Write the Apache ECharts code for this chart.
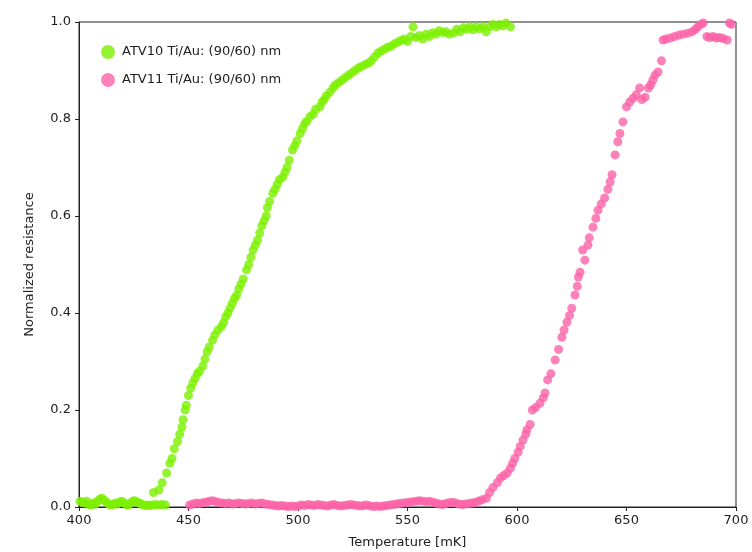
<!DOCTYPE html>
<html>
<head>
<meta charset="utf-8">
<script src="https://cdn.jsdelivr.net/npm/echarts@6/dist/echarts.min.js"></script>
<style>html,body{margin:0;padding:0;background:#fff;}#c{width:752px;height:552px;}</style>
</head>
<body>
<div id="c"></div>
<script>
const seriesNames = ["ATV10 Ti/Au: (90/60) nm", "ATV11 Ti/Au: (90/60) nm"];
const xTicks = [400, 450, 500, 550, 600, 650, 700];
const yTicks = [0.0, 0.2, 0.4, 0.6, 0.8, 1.0];
// ATV10: [temperature mK, normalized resistance]
const atv10 = [
[400.5,0.012],[401.5,0.01],[402.5,0.008],[403.5,0.012],[404.5,0.005],[405.5,0.004],[406.5,0.008],[407.5,0.006],[408.5,0.012],[409.5,0.016],[410.5,0.018],[411.5,0.014],[412.5,0.01],[413.5,0.006],[414.5,0.004],[415.5,0.005],[416.5,0.008],[417.5,0.006],[418.5,0.01],[419.5,0.012],[420.5,0.009],[421.5,0.005],[422.5,0.004],[423.5,0.008],[424.5,0.012],[425.5,0.013],[426.5,0.01],[427.5,0.008],[428.5,0.006],[429.5,0.004],[430.5,0.003],[431.5,0.004],[432.5,0.003],[433.5,0.004],[435,0.005],[436.5,0.004],[438,0.005],[439.5,0.004],
[434,0.03],[436.5,0.035],[438,0.05],[440,0.07],[441.5,0.09],[442.5,0.1],[443.5,0.12],[445,0.135],[446,0.15],[447,0.165],[447.5,0.18],[448.5,0.2],[449,0.21],[450,0.23],[451,0.245],[452,0.256],[453,0.265],[454,0.275],[455,0.28],[456.5,0.29],[457.5,0.305],[458.5,0.32],[459.5,0.33],[461,0.344],[462,0.355],[463.5,0.365],[465,0.372],[466,0.38],[467,0.392],[468,0.4],[469,0.41],[470,0.42],[471,0.43],[472,0.437],[473,0.45],[474,0.46],[475,0.47],[476.5,0.489],[477.5,0.5],[478.5,0.515],[479.5,0.53],[480.5,0.54],[481.5,0.55],[482.5,0.565],[483.5,0.58],[484.5,0.59],[485.5,0.6],[486,0.617],[487,0.63],[488.5,0.647],[489.5,0.655],[490.5,0.665],[491.5,0.675],[493,0.68],[494,0.69],[495,0.7],[496,0.715],[497.5,0.736],[498.5,0.745],[499.5,0.755],[501,0.77],[502,0.78],[503,0.79],[504,0.795],[505.5,0.805],[507,0.81],[508,0.82],[510,0.825],[511,0.835],[512,0.84],[513,0.848],[514.5,0.855],[516,0.864],[517,0.87],[518.5,0.875],[520,0.88],[521.5,0.885],[523,0.89],[524.5,0.895],[526,0.9],[527.5,0.905],[529,0.908],[530.5,0.912],[532,0.915],[533.5,0.92],[535,0.928],[536.5,0.936],[538,0.94],[539.5,0.944],[541,0.948],[542.5,0.95],[544,0.955],[545.5,0.958],[547,0.962],[548.5,0.965],[550,0.96],[551.5,0.97],[552.5,0.99],[554,0.968],[555.5,0.972],[557,0.965],[558.5,0.975],[560,0.97],[561.5,0.978],[563,0.975],[564.5,0.982],[566,0.978],[567.5,0.98],[569,0.975],[571,0.977],[572.5,0.985],[574,0.98],[575.5,0.988],[577,0.985],[578.5,0.99],[580,0.984],[581.5,0.99],[583,0.986],[584.5,0.99],[586,0.98],[587.5,0.99],[589,0.995],[590.5,0.99],[592,0.995],[593.5,0.992],[595,0.998],[597,0.99]
];
// ATV11: [temperature mK, normalized resistance]
const atv11 = [
[450.5,0.004],[452,0.006],[453.5,0.008],[455,0.007],[456.5,0.009],[458,0.01],[459.5,0.012],[461,0.013],[462.5,0.011],[464,0.009],[465.5,0.008],[467,0.007],[468.5,0.008],[470,0.006],[471.5,0.007],[473,0.008],[474.5,0.007],[476,0.006],[477.5,0.007],[479,0.008],[480.5,0.006],[482,0.007],[483.5,0.008],[485,0.006],[486.5,0.005],[488,0.004],[489.5,0.003],[491,0.002],[492.5,0.003],[494,0.002],[495.5,0.001],[497,0.002],[498.5,0.001],[500,0.002],[501.5,0.004],[503,0.003],[504.5,0.005],[506,0.004],[507.5,0.003],[509,0.005],[510.5,0.004],[512,0.003],[513.5,0.002],[515,0.004],[516.5,0.005],[518,0.003],[519.5,0.002],[521,0.003],[522.5,0.004],[524,0.005],[525.5,0.004],[527,0.003],[528.5,0.002],[530,0.003],[531.5,0.004],[533,0.002],[534.5,0.001],[536,0.002],[537.5,0.001],[539,0.002],[540.5,0.003],[542,0.004],[543.5,0.005],[545,0.006],[546.5,0.007],[548,0.008],[549.5,0.009],[551,0.01],[552.5,0.011],[554,0.012],[555.5,0.013],[557,0.012],[558.5,0.011],[560,0.012],[561.5,0.01],[563,0.008],[564.5,0.006],[566,0.005],[567.5,0.007],[569,0.009],[570.5,0.01],[572,0.008],[573.5,0.006],[575,0.005],[576.5,0.006],[578,0.007],[579.5,0.008],[581,0.01],[582.5,0.012],[584,0.015],
[586,0.018],[587.5,0.03],[589,0.04],[591,0.05],[592.5,0.06],[594,0.065],[595.5,0.07],[597,0.08],[598,0.09],[599,0.1],[600.5,0.113],[601.5,0.125],[602.7,0.138],[604,0.15],[604.5,0.159],[606,0.17],[607,0.2],[608.5,0.205],[610.5,0.214],[612,0.225],[612.8,0.235],[614,0.262],[615.5,0.275],[617.4,0.303],[619,0.325],[620.5,0.35],[621.5,0.365],[622.8,0.381],[624,0.395],[625,0.41],[626.5,0.437],[627.5,0.455],[628,0.474],[628.8,0.484],[630,0.53],[631,0.509],[632.4,0.54],[633,0.555],[634.7,0.577],[636,0.595],[637,0.612],[638.5,0.625],[640,0.637],[641.5,0.655],[642.5,0.67],[643.4,0.685],[644.8,0.726],[646,0.753],[647,0.77],[648.4,0.794],[650,0.825],[651.5,0.835],[653,0.843],[654.5,0.85],[656,0.864],[657,0.84],[658.5,0.845],[660,0.864],[661,0.87],[662,0.88],[663,0.89],[664.4,0.897],[666,0.92],[666.7,0.963],[668,0.965],[670,0.967],[672,0.97],[674,0.973],[676,0.975],[678,0.977],[680,0.98],[681.5,0.985],[682.6,0.99],[684,0.995],[685,0.998],[686.7,0.97],[688,0.968],[689.5,0.97],[691,0.967],[692.5,0.968],[694,0.966],[696,0.963],[697,0.998],[698,0.995]
];
const colors = ["#7cf000", "#fb63a8"];

const chart = echarts.init(document.getElementById('c'), null, {renderer: 'canvas'});
const font = 'DejaVu Sans';
chart.setOption({
  animation: false,
  backgroundColor: '#ffffff',
  textStyle: {fontFamily: font},
  grid: {left: 79, right: 16, top: 22, bottom: 45, containLabel: false, outerBoundsMode: 'none', show: true, borderColor: '#222', borderWidth: 1, backgroundColor: 'transparent'},
  legend: {
    left: 96, top: 40, orient: 'vertical', itemGap: 14, itemWidth: 14, itemHeight: 14,
    icon: 'circle',
    textStyle: {fontFamily: font, fontSize: 13, color: '#222', padding: [0,0,0,2]},
    data: seriesNames
  },
  xAxis: {
    type: 'value', min: xTicks[0], max: xTicks[xTicks.length-1], interval: 50,
    name: 'Temperature [mK]', nameLocation: 'middle', nameGap: 29,
    nameTextStyle: {fontFamily: font, fontSize: 13, color: '#222'},
    axisLine: {show: true, lineStyle: {color: '#222', width: 1}},
    axisTick: {show: true, length: 4, lineStyle: {color: '#222'}},
    axisLabel: {fontFamily: font, fontSize: 13, color: '#222', margin: 7},
    splitLine: {show: false}
  },
  yAxis: {
    type: 'value', min: yTicks[0], max: yTicks[yTicks.length-1], interval: 0.2,
    name: 'Normalized resistance', nameLocation: 'middle', nameGap: 43, nameRotate: 90,
    nameTextStyle: {fontFamily: font, fontSize: 13, color: '#222'},
    axisLine: {show: true, lineStyle: {color: '#222', width: 1}},
    axisTick: {show: true, length: 4, lineStyle: {color: '#222'}},
    axisLabel: {fontFamily: font, fontSize: 13, color: '#222', margin: 8, formatter: v => v.toFixed(1)},
    splitLine: {show: false}
  },
  series: [
    {name: seriesNames[0], type: 'scatter', data: atv10, symbol: 'circle', symbolSize: 9, itemStyle: {color: colors[0]}},
    {name: seriesNames[1], type: 'scatter', data: atv11, symbol: 'circle', symbolSize: 9, itemStyle: {color: colors[1]}}
  ]
});
</script>
</body>
</html>
